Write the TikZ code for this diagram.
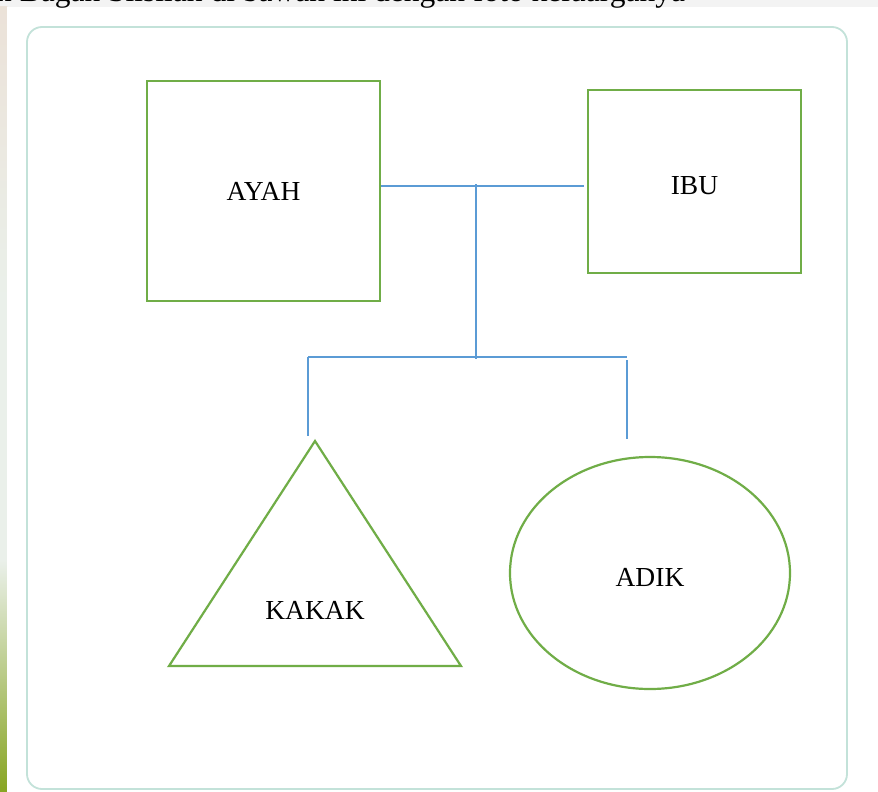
\documentclass[tikz,border=0pt]{standalone}
\usepackage{fontspec}
\setmainfont{Liberation Serif}
\usetikzlibrary{shapes.geometric}
\definecolor{kingreen}{HTML}{70AD47}
\definecolor{linkblue}{HTML}{5B9BD5}
\definecolor{framecol}{HTML}{C3E2D9}
\definecolor{pagegray}{HTML}{F3F3F3}
\definecolor{stripmid}{HTML}{EAF0EA}
\newcommand{\lowered}[1]{\raisebox{-4pt}[\height][\depth]{#1}}
\begin{document}
\begin{tikzpicture}[x=1pt,y=-1pt,
  kin/.style={draw=kingreen,line width=2.2pt},
  link/.style={draw=linkblue,line width=1.6pt},
  lbl/.style={font=\fontsize{27.5}{31}\selectfont,text=black}]
\useasboundingbox (0,0) rectangle (878,792);
% page surroundings
\fill[pagegray] (0,-20) rectangle (878,7);
\shade[top color=pagegray!85!brown, bottom color=stripmid] (0,7) rectangle (7,300);
\fill[stripmid] (0,300) rectangle (7,560);
\shade[top color=stripmid, bottom color=kingreen!60!yellow!80!black] (0,560) rectangle (7,792);
\fill[white] (7,7) rectangle (878,792);
\node[anchor=base west, inner sep=0pt, font=\fontsize{31.5}{35}\selectfont] (caption) at (-4,2)
  {n Bagan Silsilah di bawah ini dengan foto keluarganya};
% frame
\draw[framecol, line width=1.8pt, rounded corners=15pt] (27,27) rectangle (847,789);
% parents
\node[kin, lbl, minimum width=233pt, minimum height=220pt] (ayah) at (263.5,191) {AYAH};
\node[kin, lbl, minimum width=213pt, minimum height=183pt] (ibu) at (694.5,181.5) {\lowered{IBU}};
% children
\draw[kin] (315,441) -- (461,666) -- (169,666) -- cycle;
\node[lbl] (kakak) at (315,610) {KAKAK};
\node[kin, lbl, ellipse, minimum width=280pt, minimum height=232pt, inner sep=0pt] (adik) at (650,573) {\lowered{ADIK}};
% connectors
\coordinate (mid) at (476,184);
\coordinate (fork) at (476,359);
\coordinate (bl) at (308,357);
\coordinate (br) at (627,357);
\coordinate (kk) at (308,436);
\coordinate (akt) at (627,360);
\coordinate (ak) at (627,439);
\draw[link] ([yshift=5pt]ayah.east) -- ([xshift=-3pt,yshift=-4.5pt]ibu.west);
\draw[link] (mid) -- (fork);
\draw[link] (bl) -- (br);
\draw[link] (bl) -- (kk);
\draw[link] (akt) -- (ak);
\end{tikzpicture}
\end{document}
